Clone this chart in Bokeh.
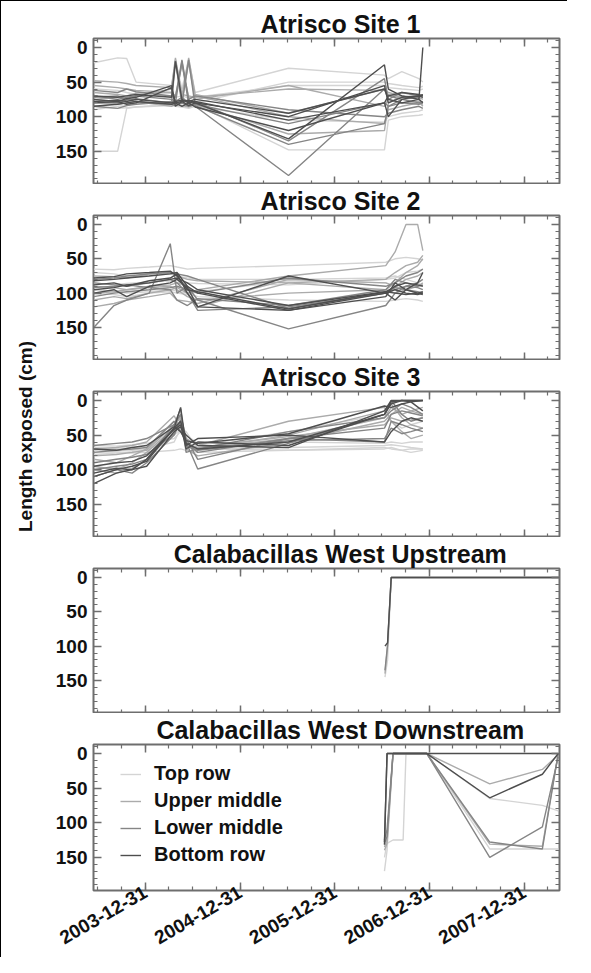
import pandas as pd
from math import pi
from bokeh.plotting import figure
from bokeh.layouts import column, row
from bokeh.models import (Range1d, FixedTicker, DatetimeTickFormatter, DatetimeAxis,
                          LinearAxis, Title, Legend, LegendItem, CustomLabelingPolicy)
from bokeh.embed import file_html
from bokeh.resources import INLINE

FONT = "Liberation Sans"
TITLES = ["Atrisco Site 1", "Atrisco Site 2", "Atrisco Site 3",
          "Calabacillas West Upstream", "Calabacillas West Downstream"]
ROW_NAMES = ["Top row", "Upper middle", "Lower middle", "Bottom row"]
ROW_COLORS = ["#d4d4d4", "#ababab", "#858585", "#4e4e4e"]
Y_LABEL = "Length exposed (cm)"

YEAR_TICKS = ["2003-12-31", "2004-12-31", "2005-12-31", "2006-12-31", "2007-12-31"]
QUARTER_TICKS = [f"{y}-{md}" for y in range(2003, 2009)
                 for md in ("03-31", "06-30", "09-30", "12-31")]
Y_TICKS = [0, 50, 100, 150]
Y_MINOR = list(range(-10, 200, 10))

# ---------------- Atrisco Site 1 ----------------
S1_DATES = ["2003-06-15", "2003-09-15", "2003-10-20", "2003-11-25", "2004-04-10",
            "2004-04-25", "2004-05-20", "2004-06-15", "2004-07-10", "2005-07-05",
            "2006-07-10", "2006-07-25", "2006-09-15", "2006-11-20", "2006-12-05"]
S1_TOP = [
    [150, 150, 88, 86, 82, 80, 78, 80, 82, 148, 148, 105, 100, 98, 97],
    [22, 15, 16, 50, 55, 20, 60, 18, 65, 30, 40, 45, 35, 45, 50],
    [60, 62, 65, 68, 70, 72, 70, 73, 72, 55, 55, 58, 60, 62, 60],
    [85, 88, 87, 86, 84, 85, 86, 88, 85, 105, 108, 100, 95, 92, 90],
    [90, 85, 84, 80, 82, 75, 80, 78, 80, 50, 50, 52, 55, 58, 56],
]
S1_UPPER = [
    [48, 50, 52, 55, 58, 15, 70, 15, 68, 95, 60, 65, 70, 72, 75],
    [65, 68, 70, 66, 65, 70, 25, 72, 70, 100, 110, 90, 85, 80, 82],
    [75, 72, 74, 70, 60, 20, 78, 22, 75, 55, 85, 75, 80, 78, 85],
    [80, 82, 80, 78, 85, 82, 84, 86, 82, 125, 120, 80, 70, 75, 72],
    [55, 58, 60, 62, 65, 18, 68, 70, 72, 60, 62, 68, 72, 70, 68],
]
S1_LOWER = [
    [70, 75, 72, 70, 75, 78, 72, 80, 78, 135, 45, 75, 65, 70, 70],
    [78, 80, 76, 74, 80, 20, 82, 18, 85, 185, 60, 70, 75, 72, 68],
    [72, 70, 75, 78, 82, 84, 80, 85, 82, 110, 80, 85, 75, 80, 78],
    [62, 65, 60, 64, 70, 72, 18, 75, 70, 90, 100, 95, 90, 85, 88],
    [85, 88, 84, 82, 78, 80, 20, 82, 84, 140, 110, 85, 80, 82, 80],
]
S1_BOTTOM = [
    [75, 78, 74, 72, 55, 80, 78, 76, 80, 132, 25, 60, 70, 75, 0],
    [80, 78, 82, 80, 58, 85, 78, 84, 80, 100, 55, 80, 72, 70, 68],
    [85, 82, 80, 78, 82, 80, 85, 80, 86, 120, 80, 100, 75, 70, 72],
    [78, 76, 78, 75, 80, 78, 76, 78, 75, 95, 60, 75, 80, 75, 80],
    [70, 72, 70, 68, 72, 20, 75, 80, 78, 105, 80, 70, 65, 68, 70],
]

# ---------------- Atrisco Site 2 ----------------
S2_DATES = ["2003-06-15", "2003-09-01", "2003-10-20", "2004-01-15", "2004-04-05",
            "2004-05-01", "2004-06-10", "2004-07-20", "2005-07-05", "2006-07-15",
            "2006-08-20", "2006-10-01", "2006-11-15", "2006-12-05"]
S2_TOP = [
    [65, 66, 64, 62, 60, 62, 65, 64, 60, 55, 50, 48, 50, 52],
    [95, 97, 100, 98, 95, 97, 100, 105, 110, 112, 110, 108, 110, 112],
    [85, 88, 86, 84, 82, 84, 85, 86, 88, 80, 78, 70, 68, 65],
    [100, 102, 105, 100, 98, 100, 102, 98, 82, 85, 90, 95, 100, 98],
    [70, 72, 75, 74, 72, 75, 78, 80, 80, 78, 75, 80, 85, 90],
]
S2_UPPER = [
    [90, 92, 95, 90, 88, 85, 90, 120, 85, 80, 70, 60, 55, 45],
    [110, 105, 108, 100, 95, 92, 100, 95, 75, 60, 40, 0, 0, 38],
    [120, 115, 110, 105, 100, 110, 112, 115, 80, 85, 90, 80, 75, 70],
    [75, 76, 78, 72, 70, 75, 80, 82, 85, 95, 100, 95, 90, 85],
    [100, 98, 95, 92, 90, 95, 105, 110, 100, 95, 85, 70, 60, 50],
]
S2_LOWER = [
    [150, 118, 110, 100, 28, 100, 90, 110, 152, 118, 100, 90, 85, 80],
    [80, 78, 75, 72, 70, 72, 75, 80, 122, 100, 95, 90, 92, 95],
    [92, 90, 88, 92, 95, 110, 118, 108, 118, 95, 80, 85, 90, 88],
    [105, 100, 98, 95, 92, 90, 95, 100, 78, 90, 85, 75, 70, 65],
    [85, 88, 90, 85, 80, 85, 100, 125, 120, 100, 92, 95, 98, 100],
]
S2_BOTTOM = [
    [82, 80, 78, 75, 72, 70, 90, 100, 125, 100, 95, 100, 102, 100],
    [78, 76, 72, 70, 68, 75, 95, 98, 123, 98, 90, 85, 88, 90],
    [100, 95, 105, 90, 85, 80, 92, 120, 125, 105, 85, 95, 100, 102],
    [88, 85, 90, 82, 78, 72, 100, 120, 75, 100, 110, 95, 85, 70],
    [95, 92, 88, 85, 80, 78, 85, 95, 118, 98, 100, 102, 100, 98],
]

# ---------------- Atrisco Site 3 ----------------
S3_DATES = ["2003-06-15", "2003-09-10", "2003-11-10", "2004-01-05", "2004-04-20",
            "2004-05-15", "2004-06-05", "2004-07-20", "2005-07-05", "2006-07-10",
            "2006-08-05", "2006-09-15", "2006-10-20", "2006-12-05"]
S3_TOP = [
    [65, 66, 64, 62, 55, 45, 50, 62, 60, 62, 60, 62, 60, 60],
    [72, 70, 72, 70, 60, 40, 45, 70, 72, 68, 70, 72, 75, 72],
    [75, 74, 76, 75, 72, 70, 72, 75, 72, 70, 68, 72, 70, 70],
    [68, 70, 68, 72, 40, 35, 55, 65, 45, 20, 30, 40, 35, 30],
    [78, 76, 74, 72, 50, 42, 60, 70, 68, 65, 64, 66, 68, 70],
]
S3_UPPER = [
    [80, 78, 75, 72, 35, 25, 60, 70, 55, 25, 10, 20, 15, 20],
    [100, 105, 98, 85, 45, 30, 65, 70, 50, 15, 5, 25, 35, 40],
    [70, 68, 65, 60, 22, 40, 55, 65, 30, 10, 30, 45, 55, 50],
    [95, 100, 90, 75, 40, 20, 70, 80, 60, 30, 20, 10, 15, 10],
    [85, 90, 80, 70, 30, 38, 62, 68, 52, 35, 25, 30, 28, 25],
]
S3_LOWER = [
    [110, 100, 105, 90, 50, 30, 60, 99, 62, 20, 0, 20, 30, 25],
    [65, 62, 60, 55, 35, 12, 75, 70, 45, 25, 15, 5, 10, 20],
    [75, 72, 70, 68, 30, 45, 60, 75, 55, 60, 30, 35, 40, 45],
    [90, 85, 82, 78, 48, 28, 66, 72, 58, 55, 40, 48, 45, 40],
    [100, 95, 92, 85, 35, 20, 55, 85, 55, 40, 20, 15, 18, 22],
]
S3_BOTTOM = [
    [120, 105, 100, 95, 45, 38, 50, 65, 68, 15, 0, 0, 0, 0],
    [105, 98, 100, 85, 40, 10, 65, 55, 50, 60, 45, 30, 25, 30],
    [95, 90, 88, 80, 42, 35, 70, 60, 65, 20, 5, 0, 2, 15],
    [70, 72, 68, 65, 38, 45, 58, 62, 48, 8, 10, 5, 2, 0],
    [110, 100, 95, 88, 40, 30, 62, 70, 60, 20, 2, 0, 0, 0],
]

# ---------------- Calabacillas West Upstream ----------------
S4_DATES = ["2006-07-12", "2006-07-22", "2006-08-05", "2007-06-01", "2008-05-15"]
S4_TOP = [[145, 120, 0, 0, 0]]
S4_UPPER = [[140, 100, 0, 0, 0]]
S4_LOWER = [[135, 98, 0, 0, 0]]
S4_BOTTOM = [[100, 95, 0, 0, 0]]

# ---------------- Calabacillas West Downstream ----------------
S5_DATES = ["2006-07-10", "2006-07-20", "2006-08-12", "2006-09-20", "2006-10-01",
            "2006-12-20", "2007-08-20", "2008-03-10", "2008-05-10"]
S5_TOP = [
    [170, 140, 0, 0, 0, 0, 138, 138, 138],
    [150, 130, 125, 125, 0, 0, 65, 75, 83],
]
S5_UPPER = [
    [140, 130, 0, 0, 0, 0, 44, 23, 2],
    [135, 125, 0, 0, 0, 0, 131, 134, 0],
]
S5_LOWER = [
    [130, 120, 0, 0, 0, 0, 150, 106, 5],
    [125, 110, 0, 0, 0, 0, 128, 138, 0],
]
S5_BOTTOM = [
    [132, 0, 0, 0, 0, 0, 64, 30, 0],
    [128, 0, 0, 0, 0, 0, 0, 0, 0],
]

PANELS = [
    (S1_DATES, [S1_TOP, S1_UPPER, S1_LOWER, S1_BOTTOM]),
    (S2_DATES, [S2_TOP, S2_UPPER, S2_LOWER, S2_BOTTOM]),
    (S3_DATES, [S3_TOP, S3_UPPER, S3_LOWER, S3_BOTTOM]),
    (S4_DATES, [S4_TOP, S4_UPPER, S4_LOWER, S4_BOTTOM]),
    (S5_DATES, [S5_TOP, S5_UPPER, S5_LOWER, S5_BOTTOM]),
]

# ---------------- layout / style ----------------
LABEL_W = 42
W = 524
HEIGHTS = [183, 176, 177, 176, 244]
TOPS = [37, 30, 31, 30, 31]
BOTTOMS = [0, 0, 0, 0, 67]
TOTAL_H = sum(HEIGHTS)
TICKC = "#6e6e6e"
TITLE_SIZE = 25
TITLE_CENTER = 247  # px from the frame's left edge

# Arial/Liberation Sans Bold advance widths (per 1000 em) for title centring
ADV = {"A": 722, "t": 333, "r": 389, "i": 278, "s": 556, "c": 556, "o": 611,
       " ": 278, "S": 667, "e": 556, "1": 556, "2": 556, "3": 556, "C": 722,
       "a": 556, "l": 278, "b": 611, "W": 944, "U": 722, "p": 611, "m": 889,
       "D": 722, "w": 778, "n": 611}


def text_w(s, size):
    return sum(ADV.get(c, 600) for c in s) / 1000.0 * size


x_range = Range1d(start=pd.Timestamp("2003-06-14"), end=pd.Timestamp("2008-05-15"))
year_ms = [pd.Timestamp(s).value / 1e6 for s in YEAR_TICKS]
quarter_ms = [pd.Timestamp(s).value / 1e6 for s in QUARTER_TICKS]
fmt_str = "%Y-%m-%d"

HIDE = "for (const i of Array.from(indices)) { indices.unset(i) }\nreturn indices"


def dt_formatter():
    return DatetimeTickFormatter(days=fmt_str, months=fmt_str, years=fmt_str,
                                 hours=fmt_str, hourmin=fmt_str, context=None)


def style_axis(ax, labels=True):
    ax.axis_line_color = None
    ax.major_tick_in = 8
    ax.major_tick_out = 0
    ax.minor_tick_in = 4
    ax.minor_tick_out = 0
    ax.major_tick_line_color = TICKC
    ax.minor_tick_line_color = TICKC
    ax.major_tick_line_width = 1.5
    ax.minor_tick_line_width = 1.2
    if labels:
        ax.major_label_text_font = FONT
        ax.major_label_text_font_size = "19px"
        ax.major_label_text_font_style = "bold"
        ax.major_label_text_color = "#111111"
    else:
        ax.major_label_text_font_size = "0px"
        ax.major_label_standoff = 0
        ax.major_label_policy = CustomLabelingPolicy(code=HIDE)


# ---- y-axis label column ----
lab = figure(width=LABEL_W, height=TOTAL_H, x_range=Range1d(0, 1), y_range=Range1d(0, 1),
             output_backend="svg", toolbar_location=None, x_axis_location=None,
             min_border_left=40, min_border_right=0, min_border_top=0,
             min_border_bottom=TOTAL_H - 870)
lab.outline_line_color = None
lab.xgrid.visible = False
lab.ygrid.visible = False
lab.border_fill_color = "white"
lab.background_fill_color = "white"
ly = lab.yaxis[0]
ly.axis_line_color = None
ly.major_tick_line_color = None
ly.minor_tick_line_color = None
ly.major_tick_out = 0
ly.major_tick_in = 0
ly.minor_tick_out = 0
ly.major_label_text_font_size = "0px"
ly.major_label_standoff = 0
ly.major_label_policy = CustomLabelingPolicy(code=HIDE)
ly.axis_label = Y_LABEL
ly.axis_label_text_font = FONT
ly.axis_label_text_font_size = "19px"
ly.axis_label_text_font_style = "bold"
ly.axis_label_text_color = "#111111"
ly.axis_label_standoff = 6

figs = []
for i, (dates, rows) in enumerate(PANELS):
    p = figure(width=W, height=HEIGHTS[i], x_axis_type="datetime",
               x_range=x_range, y_range=Range1d(198, -13),
               output_backend="svg", toolbar_location=None,
               min_border_left=50, min_border_right=8,
               min_border_top=TOPS[i], min_border_bottom=BOTTOMS[i])
    p.title = Title(text=TITLES[i], align="left", text_font=FONT,
                    text_font_size=f"{TITLE_SIZE}px", text_font_style="bold",
                    text_color="#111111", standoff=1,
                    offset=TITLE_CENTER - text_w(TITLES[i], TITLE_SIZE) / 2)
    p.xgrid.visible = False
    p.ygrid.visible = False
    p.outline_line_color = TICKC
    p.outline_line_width = 2
    p.background_fill_color = "white"
    p.border_fill_color = "white"

    xax = p.xaxis[0]
    xax.ticker = FixedTicker(ticks=year_ms, minor_ticks=quarter_ms)
    xax.formatter = dt_formatter()
    style_axis(xax, labels=(i == 4))
    if i == 4:
        xax.major_label_orientation = pi / 6
        xax.major_label_standoff = 0

    yax = p.yaxis[0]
    yax.ticker = FixedTicker(ticks=Y_TICKS, minor_ticks=Y_MINOR)
    style_axis(yax)
    yax.major_label_standoff = 6

    top_ax = DatetimeAxis(ticker=FixedTicker(ticks=year_ms, minor_ticks=quarter_ms),
                          formatter=dt_formatter())
    style_axis(top_ax, labels=False)
    p.add_layout(top_ax, "above")
    right_ax = LinearAxis(ticker=FixedTicker(ticks=Y_TICKS, minor_ticks=Y_MINOR))
    style_axis(right_ax, labels=False)
    p.add_layout(right_ax, "right")

    dts = pd.to_datetime(dates)
    first = []
    for r, series_list in enumerate(rows):
        rend = None
        for vals in series_list:
            rr = p.line(dts, vals, line_color=ROW_COLORS[r], line_width=1.4)
            if rend is None:
                rend = rr
        first.append(rend)

    if i == 4:
        items = [LegendItem(label=ROW_NAMES[r], renderers=[first[r]]) for r in range(4)]
        leg = Legend(items=items, location=(27, 24), padding=0, margin=0,
                     spacing=4, glyph_width=21, glyph_height=20, label_height=20,
                     label_standoff=13, label_text_font=FONT,
                     label_text_font_size="20px", label_text_font_style="bold",
                     label_text_color="#111111",
                     border_line_color=None, background_fill_alpha=0)
        p.add_layout(leg)
    figs.append(p)

layout = row(lab, column(*figs),
             styles={"border-left": "1px solid #000", "border-top": "1px solid #000"})

open("out.html", "w").write(file_html(layout, INLINE))
